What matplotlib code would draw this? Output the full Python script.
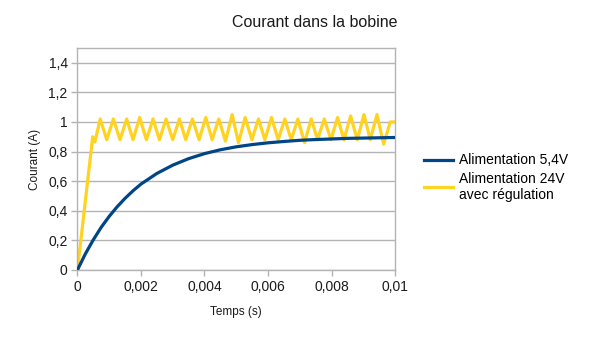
import matplotlib
matplotlib.use("Agg")
from matplotlib import pyplot as plt
from matplotlib.ticker import FuncFormatter

plt.rcParams["font.family"] = ["Liberation Sans", "DejaVu Sans"]

# ---- data ----
# 5.4 V supply: plain RL charge
t_54 = [0, 0.00025, 0.0005, 0.00075, 0.001, 0.00125, 0.0015, 0.00175, 0.002,
        0.0025, 0.003, 0.0035, 0.004, 0.0045, 0.005, 0.0055, 0.006, 0.0065,
        0.007, 0.0075, 0.008, 0.0085, 0.009, 0.0095, 0.01]
i_54 = [0, 0.109, 0.204, 0.289, 0.362, 0.427, 0.484, 0.535, 0.580,
        0.652, 0.708, 0.752, 0.786, 0.812, 0.832, 0.847, 0.859, 0.868,
        0.876, 0.881, 0.885, 0.889, 0.891, 0.893, 0.895]

# 24 V supply with regulation: fast ramp then hysteresis zigzag
t_24 = [0, 0.00048, 0.00055,
        0.000716, 0.000923, 0.00113, 0.00134, 0.00155, 0.00175, 0.00196,
        0.00217, 0.00238, 0.00258, 0.00279, 0.00300, 0.00321, 0.00341,
        0.00362, 0.00383, 0.00404, 0.00424, 0.00445, 0.00466, 0.00487,
        0.00507, 0.00528, 0.00549, 0.00570, 0.00590, 0.00611, 0.00632,
        0.00653, 0.00673, 0.00694, 0.00715, 0.00736, 0.00756, 0.00777,
        0.00798, 0.00819, 0.00839, 0.00860, 0.00881, 0.00902, 0.00922,
        0.00943, 0.00964, 0.00985, 0.01]
i_24 = [0, 0.90, 0.865,
        1.02, 0.88, 1.02, 0.88, 1.02, 0.88, 1.03, 0.88, 1.02, 0.88, 1.02,
        0.88, 1.02, 0.88, 1.02, 0.88, 1.03, 0.88, 1.02, 0.87, 1.05, 0.86,
        1.03, 0.88, 1.02, 0.88, 1.03, 0.88, 1.02, 0.88, 1.02, 0.86, 1.02,
        0.88, 1.02, 0.88, 1.03, 0.88, 1.04, 0.88, 1.05, 0.88, 1.05, 0.85,
        1.00, 1.00]

x_ticks = [0, 0.002, 0.004, 0.006, 0.008, 0.01]
y_ticks = [0, 0.2, 0.4, 0.6, 0.8, 1.0, 1.2, 1.4]

BLUE = "#004586"
YELLOW = "#ffd320"
GRID = "#b3b3b3"


def fr(v, _pos=None):
    # French decimal comma, trailing zeros dropped
    s = f"{v:.3f}".rstrip("0").rstrip(".")
    return s.replace(".", ",")


fig = plt.figure(figsize=(6.05, 3.4), dpi=100)
ax = fig.add_axes([0.128, 0.206, 0.525, 0.653])

ax.plot(t_54, i_54, color=BLUE, lw=2.3, label="Alimentation 5,4V", zorder=3)
ax.plot(t_24, i_24, color=YELLOW, lw=2.3, label="Alimentation 24V\navec régulation",
        zorder=2)

ax.set_xlim(0, 0.01)
ax.set_ylim(0, 1.5)
ax.set_xticks(x_ticks)
ax.set_yticks(y_ticks)
ax.xaxis.set_major_formatter(FuncFormatter(fr))
ax.yaxis.set_major_formatter(FuncFormatter(fr))
ax.tick_params(axis="both", length=4, width=1, color=GRID, labelsize=10,
               labelcolor="#1a1a1a", pad=3)
ax.grid(axis="y", color=GRID, lw=1)
ax.set_axisbelow(True)
for sp in ax.spines.values():
    sp.set_color(GRID)
    sp.set_linewidth(1)

ax.set_xlabel("Temps (s)", fontsize=8.5, labelpad=9, color="#1a1a1a")
ax.set_ylabel("Courant (A)", fontsize=8.5, labelpad=5, color="#1a1a1a")
fig.text(0.521, 0.933, "Courant dans la bobine", fontsize=11.5, ha="center",
         va="center", color="#1a1a1a")

fig.legend(loc="upper left", bbox_to_anchor=(0.692, 0.565), frameon=False,
           fontsize=10, handlelength=2.1, handletextpad=0.4, labelspacing=0.3,
           borderaxespad=0)

fig.savefig("out.png", dpi=100, facecolor="white")
